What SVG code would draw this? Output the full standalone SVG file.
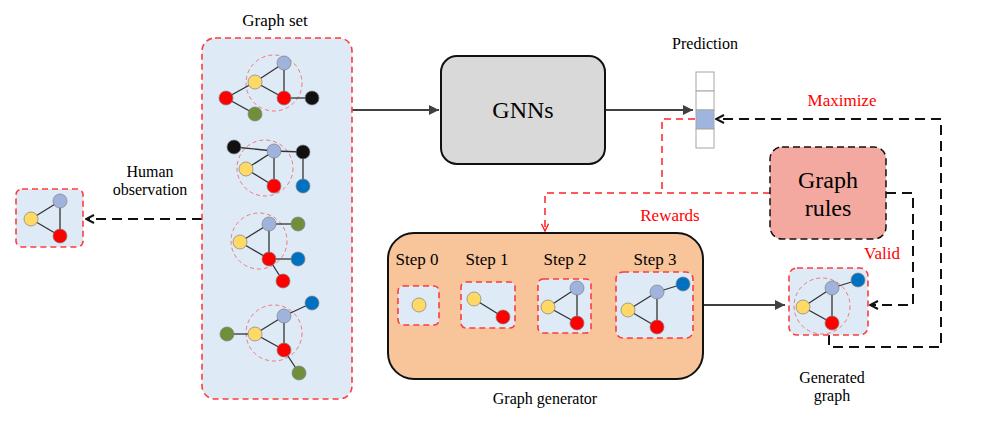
<svg xmlns="http://www.w3.org/2000/svg" width="981" height="438" viewBox="0 0 981 438">
<style>
.t{font-family:"Liberation Serif","Times New Roman",serif;fill:#000;text-anchor:middle}
.r{fill:#ff0000}
.gbox{fill:#deebf7;stroke:#ff3b3b;stroke-width:1.6;stroke-dasharray:6,4}
.dc{fill:none;stroke:#f07878;stroke-width:1;stroke-dasharray:4,3}
.e{stroke:#333;stroke-width:1.3}
.n{stroke:#7f7f7f;stroke-width:0.7}
.lb{fill:#9fb3dd}.ye{fill:#ffd966}.rd{fill:#ff0000}.gr{fill:#6f8f3a}.bk{fill:#111}.bl{fill:#0070c0}
.solid{fill:none;stroke:#404040;stroke-width:2}
.bd{fill:none;stroke:#111;stroke-width:2;stroke-dasharray:10,6}
.rdl{fill:none;stroke:#ff2020;stroke-width:1.5;stroke-dasharray:7,5}
.sd{fill:none;stroke:#404040;stroke-width:1.3;stroke-dasharray:5,3}
</style>
<defs>
<marker id="fa" viewBox="0 0 10 10" refX="10" refY="5" markerWidth="5" markerHeight="5" orient="auto"><path d="M0,0 L10,5 L0,10 z" fill="#404040"/></marker>
<marker id="oa" viewBox="0 0 10 10" refX="9" refY="5" markerWidth="5" markerHeight="5" orient="auto"><path d="M1,1 L9,5 L1,9" fill="none" stroke="#111" stroke-width="2"/></marker>
<marker id="ra" viewBox="0 0 10 10" refX="9" refY="5" markerWidth="6" markerHeight="6" orient="auto"><path d="M1,1 L9,5 L1,9" fill="none" stroke="#ff2020" stroke-width="1.6"/></marker>
<marker id="sa" viewBox="0 0 10 10" refX="9" refY="5" markerWidth="7" markerHeight="7" orient="auto"><path d="M1,1 L9,5 L1,9" fill="none" stroke="#404040" stroke-width="1.3"/></marker>
</defs>

<g id="connectors">
<path class="solid" d="M352,110 L439,110" marker-end="url(#fa)"/>
<path class="solid" d="M605,110 L693,110" marker-end="url(#fa)"/>
<path class="solid" d="M703,305 L785,305" marker-end="url(#fa)"/>
<path class="bd" d="M202,219 L86,219" marker-end="url(#oa)"/>
<path class="bd" d="M829,335 L829,347 L941,347 L941,119 L716,119" marker-end="url(#oa)"/>
<path class="bd" d="M886,193 L913,193 L913,305 L870,305" marker-end="url(#oa)"/>
<path class="rdl" d="M695,119 L662,119 L662,193"/>
<path class="rdl" d="M770,193 L545,193 L545,231" marker-end="url(#ra)"/>
<path class="sd" d="M439,305 L460,305" marker-end="url(#sa)"/>
<path class="sd" d="M515,305 L536,305" marker-end="url(#sa)"/>
<path class="sd" d="M591,305 L614,305" marker-end="url(#sa)"/>
</g>

<g id="graph-set">
<rect class="gbox" x="202" y="38" width="150" height="361" rx="13"/>
<text class="t" x="275" y="26" font-size="17">Graph set</text>
<g id="gs1">
<circle class="dc" cx="274" cy="83" r="28"/>
<line class="e" x1="255" y1="82" x2="284" y2="63"/><line class="e" x1="255" y1="82" x2="284" y2="98"/><line class="e" x1="284" y1="63" x2="284" y2="98"/><line class="e" x1="284" y1="98" x2="312" y2="98"/><line class="e" x1="255" y1="82" x2="226" y2="98"/><line class="e" x1="226" y1="98" x2="255" y2="114"/>
<circle class="n lb" cx="284" cy="63" r="7"/><circle class="n ye" cx="255" cy="82" r="7"/><circle class="n rd" cx="284" cy="98" r="7"/><circle class="n rd" cx="226" cy="98" r="7"/><circle class="n gr" cx="255" cy="114" r="7"/><circle class="n bk" cx="312" cy="98" r="7"/>
</g>
<g id="gs2">
<circle class="dc" cx="265" cy="168" r="28"/>
<line class="e" x1="234" y1="147" x2="274" y2="151"/><line class="e" x1="274" y1="151" x2="303" y2="152"/><line class="e" x1="303" y1="152" x2="303" y2="186"/><line class="e" x1="246" y1="169" x2="274" y2="151"/><line class="e" x1="246" y1="169" x2="274" y2="186"/><line class="e" x1="274" y1="151" x2="274" y2="186"/>
<circle class="n bk" cx="234" cy="147" r="7"/><circle class="n lb" cx="274" cy="151" r="7"/><circle class="n bk" cx="303" cy="152" r="7"/><circle class="n ye" cx="246" cy="169" r="7"/><circle class="n rd" cx="274" cy="186" r="7"/><circle class="n bl" cx="303" cy="186" r="7"/>
</g>
<g id="gs3">
<circle class="dc" cx="259" cy="241" r="28"/>
<line class="e" x1="240" y1="242" x2="269" y2="224"/><line class="e" x1="269" y1="224" x2="298" y2="224"/><line class="e" x1="240" y1="242" x2="269" y2="259"/><line class="e" x1="269" y1="224" x2="269" y2="259"/><line class="e" x1="269" y1="259" x2="298" y2="259"/><line class="e" x1="269" y1="259" x2="283" y2="281"/>
<circle class="n lb" cx="269" cy="224" r="7"/><circle class="n gr" cx="298" cy="224" r="7"/><circle class="n ye" cx="240" cy="242" r="7"/><circle class="n rd" cx="269" cy="259" r="7"/><circle class="n bl" cx="298" cy="259" r="7"/><circle class="n rd" cx="283" cy="281" r="7"/>
</g>
<g id="gs4">
<circle class="dc" cx="274" cy="333" r="28"/>
<line class="e" x1="255" y1="334" x2="284" y2="316"/><line class="e" x1="284" y1="316" x2="312" y2="303"/><line class="e" x1="227" y1="334" x2="255" y2="334"/><line class="e" x1="255" y1="334" x2="284" y2="350"/><line class="e" x1="284" y1="316" x2="284" y2="350"/><line class="e" x1="284" y1="350" x2="299" y2="373"/>
<circle class="n bl" cx="312" cy="303" r="7"/><circle class="n lb" cx="284" cy="316" r="7"/><circle class="n gr" cx="227" cy="334" r="7"/><circle class="n ye" cx="255" cy="334" r="7"/><circle class="n rd" cx="284" cy="350" r="7"/><circle class="n gr" cx="299" cy="373" r="7"/>
</g>
</g>

<g id="human-observation">
<rect class="gbox" x="16" y="189" width="67" height="58" rx="6"/>
<line class="e" x1="31" y1="219" x2="60" y2="201"/><line class="e" x1="31" y1="219" x2="60" y2="236"/><line class="e" x1="60" y1="201" x2="60" y2="236"/>
<circle class="n lb" cx="60" cy="201" r="7"/><circle class="n ye" cx="31" cy="219" r="7"/><circle class="n rd" cx="60" cy="236" r="7"/>
<text class="t" x="150" y="177" font-size="16">Human</text>
<text class="t" x="150" y="195" font-size="16">observation</text>
</g>

<g id="gnns">
<rect x="441" y="56" width="164" height="108" rx="16" fill="#d9d9d9" stroke="#111" stroke-width="2"/>
<text class="t" x="523" y="118" font-size="24">GNNs</text>
</g>

<g id="prediction">
<text class="t" x="705" y="49" font-size="16">Prediction</text>
<rect x="696" y="72" width="18" height="19" fill="#fff" stroke="#a6a6a6" stroke-width="1"/>
<rect x="696" y="91" width="18" height="19" fill="#fff" stroke="#a6a6a6" stroke-width="1"/>
<rect x="696" y="110" width="18" height="19" fill="#a0b4e0" stroke="#a6a6a6" stroke-width="1"/>
<rect x="696" y="129" width="18" height="19" fill="#fff" stroke="#a6a6a6" stroke-width="1"/>
</g>

<text class="t r" x="842" y="106" font-size="17">Maximize</text>
<text class="t r" x="670" y="221" font-size="17">Rewards</text>
<text class="t r" x="882" y="259" font-size="17">Valid</text>

<g id="graph-rules">
<rect x="770" y="147" width="116" height="92" rx="12" fill="#f4a9a0" stroke="#111" stroke-width="1.5" stroke-dasharray="7,4"/>
<text class="t" x="828" y="188" font-size="24">Graph</text>
<text class="t" x="828" y="216" font-size="24">rules</text>
</g>

<g id="graph-generator">
<rect x="388" y="233" width="315" height="146" rx="26" fill="#f8c499" stroke="#111" stroke-width="2"/>
<text class="t" x="545" y="404" font-size="16">Graph generator</text>
<text class="t" x="417" y="265" font-size="17">Step 0</text>
<text class="t" x="487" y="265" font-size="17">Step 1</text>
<text class="t" x="565" y="265" font-size="17">Step 2</text>
<text class="t" x="655" y="265" font-size="17">Step 3</text>
<g id="step0">
<rect class="gbox" x="398" y="286" width="41" height="39" rx="5"/>
<circle class="n ye" cx="419" cy="305" r="7"/>
</g>
<g id="step1">
<rect class="gbox" x="461" y="282" width="54" height="46" rx="5"/>
<line class="e" x1="474" y1="299" x2="503" y2="317"/>
<circle class="n ye" cx="474" cy="299" r="7"/><circle class="n rd" cx="503" cy="317" r="7"/>
</g>
<g id="step2">
<rect class="gbox" x="538" y="279" width="53" height="54" rx="5"/>
<line class="e" x1="548" y1="307" x2="577" y2="288"/><line class="e" x1="548" y1="307" x2="577" y2="323"/><line class="e" x1="577" y1="288" x2="577" y2="323"/>
<circle class="n lb" cx="577" cy="288" r="7"/><circle class="n ye" cx="548" cy="307" r="7"/><circle class="n rd" cx="577" cy="323" r="7"/>
</g>
<g id="step3">
<rect class="gbox" x="616" y="272" width="77" height="66" rx="7"/>
<line class="e" x1="628" y1="310" x2="657" y2="292"/><line class="e" x1="657" y1="292" x2="683" y2="284"/><line class="e" x1="628" y1="310" x2="657" y2="327"/><line class="e" x1="657" y1="292" x2="657" y2="327"/>
<circle class="n bl" cx="683" cy="284" r="7"/><circle class="n lb" cx="657" cy="292" r="7"/><circle class="n ye" cx="628" cy="310" r="7"/><circle class="n rd" cx="657" cy="327" r="7"/>
</g>
</g>

<g id="generated-graph">
<rect class="gbox" x="789" y="268" width="79" height="67" rx="8"/>
<circle class="dc" cx="822" cy="306" r="28"/>
<line class="e" x1="803" y1="307" x2="832" y2="288"/><line class="e" x1="832" y1="288" x2="858" y2="280"/><line class="e" x1="803" y1="307" x2="832" y2="323"/><line class="e" x1="832" y1="288" x2="832" y2="323"/>
<circle class="n bl" cx="858" cy="280" r="7"/><circle class="n lb" cx="832" cy="288" r="7"/><circle class="n ye" cx="803" cy="307" r="7"/><circle class="n rd" cx="832" cy="323" r="7"/>
<text class="t" x="832" y="383" font-size="16">Generated</text>
<text class="t" x="832" y="401" font-size="16">graph</text>
</g>
</svg>
